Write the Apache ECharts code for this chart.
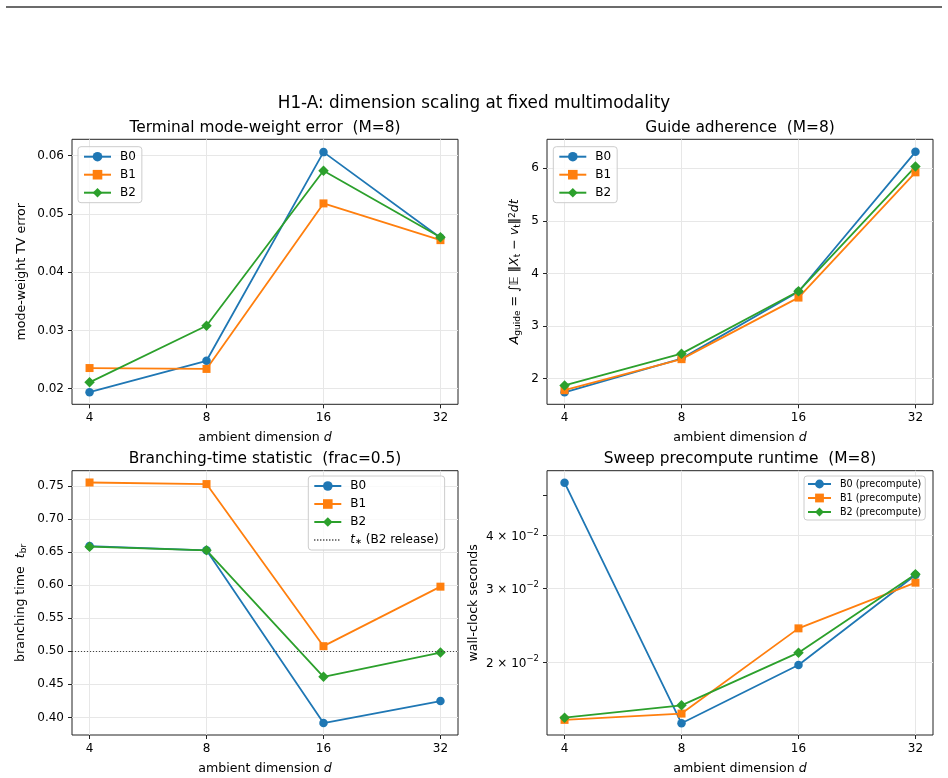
<!DOCTYPE html>
<html>
<head>
<meta charset="utf-8">
<script src="https://cdn.jsdelivr.net/npm/echarts@6/dist/echarts.min.js"></script>
<style>
  html, body { margin: 0; padding: 0; background: #fff; }
  #main { width: 948px; height: 778px; }
</style>
</head>
<body>
<div id="main"></div>
<script>
// ambient dimension d (x axis is log2)
var dims = [4, 8, 16, 32];

// Terminal mode-weight TV error
var tvB0 = [0.0194, 0.0248, 0.0606, 0.0459];
var tvB1 = [0.02355, 0.0234, 0.0518, 0.0455];
var tvB2 = [0.0211, 0.0308, 0.0574, 0.0460];
var tvTicks = [0.02, 0.03, 0.04, 0.05, 0.06];

// Guide adherence
var guideB0 = [1.74, 2.38, 3.65, 6.31];
var guideB1 = [1.78, 2.37, 3.54, 5.92];
var guideB2 = [1.87, 2.475, 3.66, 6.03];
var guideTicks = [2, 3, 4, 5, 6];

// Branching-time statistic
var brB0 = [0.659, 0.6525, 0.3915, 0.4247];
var brB1 = [0.755, 0.7526, 0.5077, 0.5976];
var brB2 = [0.658, 0.6525, 0.4614, 0.498];
var brTicks = [0.40, 0.45, 0.50, 0.55, 0.60, 0.65, 0.70, 0.75];
var tStar = 0.5;

// Sweep precompute runtime (log y)
var rtB0 = [0.05346, 0.01432, 0.0197, 0.03226];
var rtB1 = [0.01459, 0.0151, 0.02408, 0.03093];
var rtB2 = [0.01477, 0.0158, 0.02108, 0.03238];
var rtTicks = [0.02, 0.03, 0.04];
var rtMinorTicks = [0.05];

var FONT = 'DejaVu Sans';
var C0 = '#1f77b4', C1 = '#ff7f0e', C2 = '#2ca02c';
var GRIDC = '#e7e7e7';

var grids = [
    {left: 72, top: 139.3, width: 386, height: 265},
    {left: 547, top: 139.3, width: 386, height: 265},
    {left: 72, top: 470.7, width: 386, height: 264.3},
    {left: 547, top: 470.7, width: 386, height: 264.3}
];
grids.forEach(function (g) {
    g.show = true;
    g.borderColor = '#222';
    g.borderWidth = 1;
    g.backgroundColor = 'transparent';
});

var xTickVals = dims.map(function (d) { return Math.log2(d); });

function xAxisFor(i) {
    return {
        type: 'value', gridIndex: i, min: 1.85, max: 5.15,
        name: 'ambient dimension {i|d}', nameLocation: 'middle', nameGap: 27,
        nameTextStyle: {
            fontFamily: FONT, fontSize: 12.6, color: '#000',
            rich: {i: {fontFamily: FONT, fontSize: 12.6, fontStyle: 'italic', color: '#000'}}
        },
        axisLine: {show: false},
        axisTick: {show: true, length: 4, lineStyle: {color: '#222'}, customValues: xTickVals},
        axisLabel: {
            customValues: xTickVals, margin: 8, fontFamily: FONT, fontSize: 12, color: '#000',
            formatter: function (v) { return String(Math.round(Math.pow(2, v))); }
        },
        splitLine: {show: true, lineStyle: {color: GRIDC, width: 1}}
    };
}

function yAxisFor(i, min, max, ticks, fmt, name, nameGap, rich, labelRich) {
    return {
        type: 'value', gridIndex: i, min: min, max: max,
        name: name, nameLocation: 'middle', nameGap: nameGap,
        nameTextStyle: {fontFamily: FONT, fontSize: 12.6, color: '#000', rich: rich || {}},
        axisLine: {show: false},
        axisTick: {show: true, length: 4, lineStyle: {color: '#222'}, customValues: ticks},
        axisLabel: {
            customValues: ticks, margin: 8, fontFamily: FONT, fontSize: 12, color: '#000',
            formatter: fmt, rich: labelRich || {}
        },
        splitLine: {show: true, lineStyle: {color: GRIDC, width: 1}}
    };
}

var lg = function (v) { return Math.log10(v); };

var mathRich = {
    i: {fontFamily: FONT, fontSize: 12.6, fontStyle: 'italic', color: '#000', lineHeight: 14},
    n: {fontFamily: FONT, fontSize: 12.6, color: '#000', lineHeight: 14},
    sub: {fontFamily: FONT, fontSize: 9, color: '#000', verticalAlign: 'bottom', lineHeight: 10},
    sup: {fontFamily: FONT, fontSize: 9, color: '#000', verticalAlign: 'top', lineHeight: 10}
};

var expRich = {
    n: {fontFamily: FONT, fontSize: 12, color: '#000', lineHeight: 15, verticalAlign: 'bottom'},
    sup: {fontFamily: FONT, fontSize: 8.5, color: '#000', lineHeight: 15, verticalAlign: 'top'}
};

var yAxes = [
    yAxisFor(0, 0.01733, 0.0628, tvTicks, function (v) { return v.toFixed(2); },
        'mode-weight TV error', 44),
    yAxisFor(1, 1.512, 6.548, guideTicks, function (v) { return String(Math.round(v)); },
        '{i|A}{sub|guide}{n| = ∫𝔼 ‖}{i|X}{sub|t}{n| − }{i|v}{sub|t}{n|‖}{sup|2}{i|dt}', 25, mathRich),
    yAxisFor(2, 0.3735, 0.7728, brTicks, function (v) { return v.toFixed(2); },
        '{n|branching time  }{i|t}{sub|br}', 44, mathRich),
    yAxisFor(3, lg(0.01343), lg(0.05709), rtTicks.map(lg), function (v) {
        return '{n|' + Math.round(Math.pow(10, v) * 100) + ' × 10}{sup|−2}';
    }, 'wall-clock seconds', 67, null, expRich),
    // minor tick at 5e-2 (no label, no grid line)
    {
        type: 'value', gridIndex: 3, min: lg(0.01343), max: lg(0.05709), position: 'left',
        axisLine: {show: false},
        axisTick: {show: true, length: 4, lineStyle: {color: '#222'}, customValues: rtMinorTicks.map(lg)},
        axisLabel: {show: false},
        splitLine: {show: false}
    }
];

function pts(vals, ylog) {
    return dims.map(function (d, k) {
        return [Math.log2(d), ylog ? Math.log10(vals[k]) : vals[k]];
    });
}

function line(name, gi, yi, vals, kind, ylog) {
    var sym = {circle: ['circle', 8.5, C0], rect: ['rect', 8, C1], diamond: ['diamond', 10.5, C2]}[kind];
    return {
        name: name, type: 'line', xAxisIndex: gi, yAxisIndex: yi,
        data: pts(vals, ylog),
        symbol: sym[0], symbolSize: sym[1], showAllSymbol: true,
        lineStyle: {color: sym[2], width: 1.8},
        itemStyle: {color: sym[2], borderWidth: 0},
        emphasis: {disabled: true}
    };
}

var series = [
    line('B0', 0, 0, tvB0, 'circle'),
    line('B1', 0, 0, tvB1, 'rect'),
    line('B2', 0, 0, tvB2, 'diamond'),
    line('B0', 1, 1, guideB0, 'circle'),
    line('B1', 1, 1, guideB1, 'rect'),
    line('B2', 1, 1, guideB2, 'diamond'),
    line('B0', 2, 2, brB0, 'circle'),
    line('B1', 2, 2, brB1, 'rect'),
    line('B2', 2, 2, brB2, 'diamond'),
    {
        name: 't* (B2 release)', type: 'line', xAxisIndex: 2, yAxisIndex: 2,
        data: [], symbol: 'none',
        lineStyle: {color: '#444', width: 1, type: [1, 2]},
        itemStyle: {color: '#444'},
        markLine: {
            silent: true, symbol: 'none', label: {show: false},
            lineStyle: {color: '#444', width: 1, type: [1, 2]},
            data: [{yAxis: tStar}]
        }
    },
    line('B0 (precompute)', 3, 3, rtB0, 'circle', true),
    line('B1 (precompute)', 3, 3, rtB1, 'rect', true),
    line('B2 (precompute)', 3, 3, rtB2, 'diamond', true)
];

function legendAt(left, top, names, fs, iw, ih, gap, pad, fmt) {
    return {
        orient: 'vertical', left: left, top: top,
        data: names, itemWidth: iw, itemHeight: ih, itemGap: gap,
        padding: pad,
        backgroundColor: 'rgba(255,255,255,0.8)', borderColor: '#cccccc', borderWidth: 1, borderRadius: 3,
        selectedMode: false,
        formatter: fmt,
        textStyle: {
            fontFamily: FONT, fontSize: fs, color: '#000', padding: [0, 0, 0, 4],
            rich: {
                i: {fontFamily: FONT, fontSize: fs, fontStyle: 'italic', color: '#000'},
                s: {fontFamily: FONT, fontSize: fs * 0.7, color: '#000', verticalAlign: 'bottom'}
            }
        }
    };
}

var option = {
    animation: false,
    backgroundColor: '#fff',
    textStyle: {fontFamily: FONT},
    graphic: [{
        type: 'line', shape: {x1: 6, y1: 7, x2: 942, y2: 7},
        style: {stroke: '#3a3a3a', lineWidth: 1.5}
    }],
    title: [
        {text: 'H1-A: dimension scaling at fixed multimodality', left: 474, top: 95, textAlign: 'center',
            padding: 0, textStyle: {fontFamily: FONT, fontSize: 16.8, fontWeight: 'normal', color: '#000'}},
        {text: 'Terminal mode-weight error  (M=8)', left: 265, top: 120.5, textAlign: 'center',
            padding: 0, textStyle: {fontFamily: FONT, fontSize: 15.4, fontWeight: 'normal', color: '#000'}},
        {text: 'Guide adherence  (M=8)', left: 740, top: 120.5, textAlign: 'center',
            padding: 0, textStyle: {fontFamily: FONT, fontSize: 15.4, fontWeight: 'normal', color: '#000'}},
        {text: 'Branching-time statistic  (frac=0.5)', left: 265, top: 451, textAlign: 'center',
            padding: 0, textStyle: {fontFamily: FONT, fontSize: 15.4, fontWeight: 'normal', color: '#000'}},
        {text: 'Sweep precompute runtime  (M=8)', left: 740, top: 451, textAlign: 'center',
            padding: 0, textStyle: {fontFamily: FONT, fontSize: 15.4, fontWeight: 'normal', color: '#000'}}
    ],
    legend: [
        legendAt(78, 146.7, ['B0', 'B1', 'B2'], 12, 27, 12, 6, [4, 6, 4, 5]),
        legendAt(553.3, 146.7, ['B0', 'B1', 'B2'], 12, 27, 12, 6, [4, 6, 4, 5]),
        legendAt(308.3, 476, ['B0', 'B1', 'B2',
            {name: 't* (B2 release)', itemStyle: {opacity: 0}}], 12, 27, 12, 6, [4, 6, 4, 5], function (n) {
            return n === 't* (B2 release)' ? '{i|t}{s|∗} (B2 release)' : n;
        }),
        legendAt(804, 476, ['B0 (precompute)', 'B1 (precompute)', 'B2 (precompute)'],
            9.6, 23, 11, 4, [3, 4, 3, 3])
    ],
    grid: grids,
    xAxis: [xAxisFor(0), xAxisFor(1), xAxisFor(2), xAxisFor(3)],
    yAxis: yAxes,
    series: series
};

var myChart = echarts.init(document.getElementById('main'));
myChart.setOption(option);
</script>
</body>
</html>
